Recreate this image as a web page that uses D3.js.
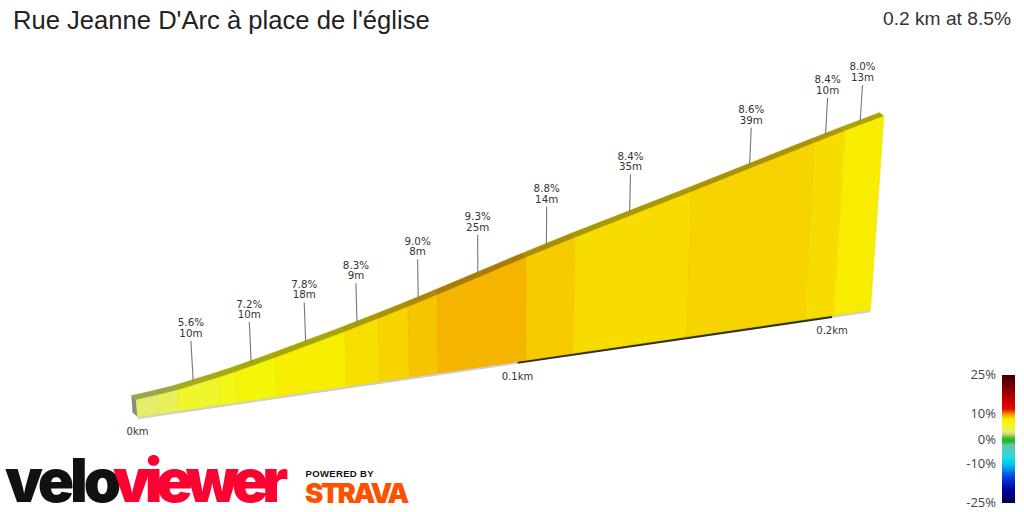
<!DOCTYPE html>
<html><head><meta charset="utf-8">
<script src="https://cdn.jsdelivr.net/npm/d3@7"></script>
<style>html,body{margin:0;padding:0;background:#fff;overflow:hidden}svg{display:block}</style>
</head><body><svg id="c" width="1024" height="512"></svg>
<script>
// ---- data ----
const titleText = "Rue Jeanne D'Arc à place de l'église";
const summaryText = "0.2 km at 8.5%";
const segmentGrades  = [3.0, 3.6, 5.6, 6.4, 7.2, 7.8, 8.3, 8.6, 9.0, 9.3, 8.8, 8.4, 8.6, 8.4, 8.0];
const segmentLengths = [5, 5, 10, 4.5, 10, 18, 9, 8, 8, 25, 14, 35, 39, 10, 13];
const labelled       = [0, 0, 1, 0, 1, 1, 1, 0, 1, 1, 1, 1, 1, 1, 1];
const distanceTicks  = [0, 100, 200];
const distanceNames  = ["0km", "0.1km", "0.2km"];
const legendTicks    = [25, 10, 0, -10, -25];
const legendStops    = [25,20,15,12,10,9,8,7,5,3,2,0.7,-0.7,-2,-7,-10,-15,-20,-25];
const legendColors   = ["#400000","#800000","#d00000","#e80800","#f09000","#f6c400","#f8ec00","#f2f808","#eef53a","#e6ec6c","#c8c868","#30c030","#10c020","#70c0a8","#20e0e0","#00c8f0","#0040e0","#0000a0","#000040"];

// ---- scales ----
const grade = d3.scaleLinear().domain(legendStops).range(legendColors).clamp(true);
const totalLength = d3.sum(segmentLengths);
const starts = Array.from(d3.cumsum([0, ...segmentLengths]));
const elev = [0]; segmentLengths.forEach((l,i)=>elev.push(elev[i]+l*segmentGrades[i]/100));
const elevAt = d => { let i = d3.bisectRight(starts, d)-1; i=Math.min(i,segmentLengths.length-1);
  return elev[i]+(d-starts[i])*segmentGrades[i]/100; };

// camera: distance d (m), height h (m above base), depth z
const baseH = 1.4;
const cam = {x0:137.5,xd:4.339,xh:-1.15,xz:-5,y0:417,yd:-0.1784,yh:-13,yz:-4.5,pd:0.0010413,ph:-0.0023};
const project = (d,h,z=0) => { const w=1+cam.pd*d+cam.ph*h;
  return [(cam.x0+cam.xd*d+cam.xh*h+cam.xz*z)/w,(cam.y0+cam.yd*d+cam.yh*h+cam.yz*z)/w]; };
const H = d => baseH+elevAt(d);
const topOf = d => project(d, H(d));
const topBack = d => project(d, H(d), 1);
const line = d3.line();
const dim = v => { const c=d3.rgb(grade(v)); return d3.rgb(c.r*.69,c.g*.69,c.b*.69); };

const svg = d3.select("#c");
const g = svg.append("g");

// left end of the wedge
g.append("path").attr("d",line([project(0,0),project(0,baseH),project(0,baseH,1),project(0,0,1)])+"Z").attr("fill","#8c8c72");
// base strips: alternate 100 m bands
d3.pairs([...distanceTicks,totalLength]).forEach(([a,b],i)=>{
  const p=project(a,0), q=project(b,0);
  g.append("path").attr("d",line([[p[0],p[1]+1],[q[0],q[1]+1]]))
   .attr("stroke",i%2?"#2e2e2e":"#cfcfcf").attr("stroke-width",2.7).attr("fill","none");
});
// road surface, one band per segment
g.selectAll("path.top").data(segmentLengths).join("path").attr("class","top")
  .attr("d",(l,i)=>line([topBack(starts[i]),topBack(starts[i+1]),topOf(starts[i+1]),topOf(starts[i])])+"Z")
  .attr("fill",(l,i)=>dim(segmentGrades[i]))
  .attr("stroke",(l,i)=>dim(segmentGrades[i])).attr("stroke-width",.4);
// wall segments
g.selectAll("path.seg").data(segmentLengths).join("path").attr("class","seg")
  .attr("d",(l,i)=>line([project(starts[i],0),topOf(starts[i]),topOf(starts[i+1]),project(starts[i+1],0)])+"Z")
  .attr("fill",(l,i)=>grade(segmentGrades[i]))
  .attr("stroke",(l,i)=>d3.color(grade(segmentGrades[i])).darker(0.12)).attr("stroke-width",0.7);

// distance labels
const lab = svg.append("g").attr("font-family","DejaVu Sans").attr("fill","#333");
distanceTicks.forEach((d,i)=>{const p=project(d,0);
  lab.append("text").attr("x",p[0]).attr("y",p[1]+18).attr("font-size",10).attr("text-anchor","middle").text(distanceNames[i]);
});
// callouts
segmentLengths.forEach((l,i)=>{ if(!labelled[i])return;
  const mid=starts[i]+l/2, t=topBack(mid), tip=project(mid,H(mid)+3.2,1);
  g.append("line").attr("x1",t[0]).attr("y1",t[1]+1).attr("x2",tip[0]).attr("y2",tip[1])
    .attr("stroke","#777").attr("stroke-width",1.1);
  lab.append("text").attr("x",tip[0]).attr("y",tip[1]-14.5).attr("font-size",10.3).attr("text-anchor","middle").text(segmentGrades[i].toFixed(1)+"%");
  lab.append("text").attr("x",tip[0]).attr("y",tip[1]-4).attr("font-size",10.3).attr("text-anchor","middle").text(l+"m");
});

// titles
svg.append("text").attr("x",13).attr("y",29).attr("font-family","Liberation Sans").attr("font-size",25.6).attr("fill","#222").text(titleText);
svg.append("text").attr("x",1011).attr("y",25).attr("text-anchor","end").attr("font-family","Liberation Sans").attr("font-size",19.2).attr("fill","#333").text(summaryText);

// legend
const legendY = d3.scaleLinear().domain([25,10,0,-10,-25]).range([375,414,440,464,503]);
const lg=svg.append("defs").append("linearGradient").attr("id","lg").attr("x1",0).attr("x2",0).attr("y1",0).attr("y2",1);
legendStops.forEach((s,i)=>lg.append("stop").attr("offset",(legendY(s)-375)/(503-375)).attr("stop-color",legendColors[i]));
svg.append("rect").attr("x",1002).attr("y",375).attr("width",13).attr("height",128).attr("fill","url(#lg)");
legendTicks.forEach(t=>svg.append("text").attr("x",996).attr("y",legendY(t)+4).attr("text-anchor","end")
  .attr("font-family","Open Sans").attr("font-size",13).attr("fill","#444").text(t+"%"));

// logos
const fit=(txt,x,y,w,size,col)=>{
  const e=svg.append("text").attr("x",x).attr("y",y).attr("font-family","Inter").attr("font-weight",900)
    .attr("font-size",size).attr("fill",col).text(txt);
  const n=e.node().getComputedTextLength();
  e.attr("letter-spacing",(w-n)/txt.length);
};
fit("velo",5,502,112,60,"#111");
fit("viewer",113,502,169,60,"#ff0033");
svg.append("text").attr("x",305.5).attr("y",477).attr("font-family","Liberation Sans").attr("font-weight",700).attr("font-size",9.5).attr("letter-spacing",.35).attr("fill","#111").text("POWERED BY");
fit("STRAVA",305,503,102,27.5,"#fc5200");
</script></body></html>
